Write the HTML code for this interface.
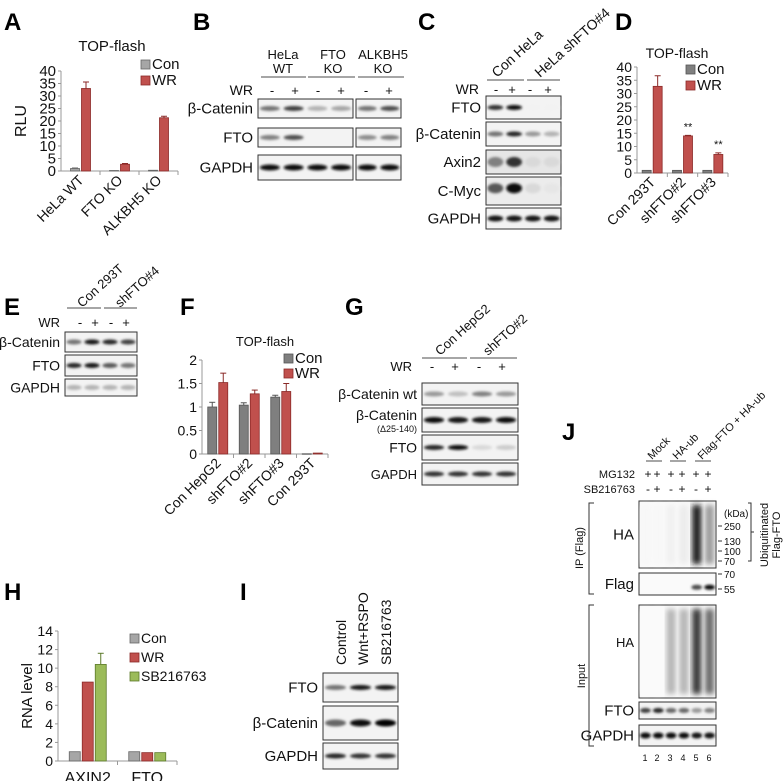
<!DOCTYPE html>
<html><head><meta charset="utf-8"><style>
body{margin:0;background:#fff}
svg{display:block;font-family:"Liberation Sans",Arial,sans-serif}
.L{font-weight:bold;font-size:24px}
</style></head><body>
<svg id="s" width="784" height="781" viewBox="0 0 784 781" xmlns="http://www.w3.org/2000/svg">
<defs><filter id="bl" x="-20%" y="-100%" width="140%" height="300%"><feGaussianBlur stdDeviation="1.2"/></filter>
<filter id="bl2" x="-20%" y="-20%" width="140%" height="140%"><feGaussianBlur stdDeviation="3"/></filter></defs>
<g class="L">
<text x="4" y="30">A</text><text x="193" y="30">B</text><text x="418" y="30">C</text><text x="615" y="30">D</text>
<text x="4" y="315">E</text><text x="180" y="315">F</text><text x="345" y="315">G</text>
<text x="4" y="600">H</text><text x="240" y="600">I</text><text x="562" y="440">J</text>
</g>
<g id="charts"></g>
<g id="blots"></g>
<g id="txt" font-size="13" fill="#111"></g>
</svg>
<script>
const S=document.getElementById('s'),NS='http://www.w3.org/2000/svg';
function el(t,a,p){const e=document.createElementNS(NS,t);for(const k in a)e.setAttribute(k,a[k]);(p||S).appendChild(e);return e;}
function tx(x,y,s,o){o=o||{};const e=el('text',Object.assign({x:x,y:y,'font-size':o.fs||13,fill:'#111','text-anchor':o.a||'start'},o.rot?{transform:`rotate(${o.rot} ${x} ${y})`}:{}),o.p||S);e.textContent=s;return e;}

// ---- chart data ----
const aCats=['HeLa WT','FTO KO','ALKBH5 KO'];
const aCon=[1,0.2,0.3];const aWR=[33,2.7,21.3];const aWRerr=[2.6,0.3,0.6];const aConErr=[0.2,0,0];
const aTicks=[0,5,10,15,20,25,30,35,40];
const dCats=['Con 293T','shFTO#2','shFTO#3'];
const dCon=[1,1,1];const dWR=[32.7,14,7];const dWRerr=[4,0.2,0.6];const dTicks=[0,5,10,15,20,25,30,35,40];const dStars=['','**','**'];
const fCats=['Con HepG2','shFTO#2','shFTO#3','Con 293T'];
const fCon=[1,1.04,1.21,0.005];const fWR=[1.52,1.28,1.33,0.02];const fConErr=[0.1,0.05,0.04,0];const fWRerr=[0.2,0.08,0.17,0];
const fTicks=[0,0.5,1,1.5,2];
const hCats=['AXIN2','FTO'];
const hCon=[1,1];const hWR=[8.5,0.9];const hSB=[10.4,0.9];const hSBerr=[1.2,0];const hTicks=[0,2,4,6,8,10,12,14];

function chart(name,o){
 const g=el('g',{});
 const y=v=>o.y0-(v-o.min)/(o.max-o.min)*(o.y0-o.y1);
 el('line',{x1:o.x0,y1:o.y1,x2:o.x0,y2:o.y0,stroke:'#999'},g);
 el('line',{x1:o.x0,y1:o.y0,x2:o.x2,y2:o.y0,stroke:'#999'},g);
 o.ticks.forEach(t=>{el('line',{x1:o.x0-3,x2:o.x0,y1:y(t),y2:y(t),stroke:'#999'},g);tx(o.x0-5,y(t)+5,String(t),{a:'end',fs:o.tfs||15,p:g});});
 const n=o.cats.length,gw=(o.x2-o.x0)/n;
 o.cats.forEach((c,i)=>{
  el('line',{x1:o.x0+gw*(i+1),x2:o.x0+gw*(i+1),y1:o.y0,y2:o.y0+4,stroke:'#999'},g);
  const ns=o.series.length,cx=o.x0+gw*(i+0.5),st=cx-ns*o.bw/2-(ns-1);
  o.series.forEach((s,j)=>{
   const v=s.v[i],bx=st+j*(o.bw+2),top=y(v);
   const b=el('rect',{x:bx,y:top,width:o.bw,height:Math.max(0.5,o.y0-top),fill:s.c,stroke:s.sc,'stroke-width':0.8},g);
   
   
   if(s.e&&s.e[i]){el('line',{x1:bx+o.bw/2,x2:bx+o.bw/2,y1:top,y2:y(v+s.e[i]),stroke:s.sc},g);el('line',{x1:bx+o.bw/2-3,x2:bx+o.bw/2+3,y1:y(v+s.e[i]),y2:y(v+s.e[i]),stroke:s.sc},g);}
   if(s.star&&s.star[i])tx(bx+o.bw/2,y(v+(s.e?s.e[i]:0))-5,s.star[i],{a:'middle',fs:11,p:g});
  });
  if(o.rotCat)tx(cx+4,o.y0+10,c,{a:'end',fs:o.cfs||14,rot:-45,p:g});else tx(cx,o.y0+22,c,{a:'middle',fs:16,p:g});
 });
 o.series.forEach((s,j)=>{el('rect',{x:o.lx,y:o.ly+j*o.ld-9,width:9,height:9,fill:s.c,stroke:s.sc,'stroke-width':0.8},g);tx(o.lx+11,o.ly+j*o.ld,s.n,{fs:o.lfs||15,p:g});});
 if(o.title)tx(o.tx,o.ty,o.title,{a:'middle',fs:o.tfsT||15,p:g});
 if(o.yl)tx(o.ylx,o.yly,o.yl,{a:'middle',fs:o.ylfs||16,rot:-90,p:g});
}
const G='#a6a6a6',GS='#666',R='#c0504d',RS='#8b2a28',D='#7f7f7f',GR='#9bbb59',GRS='#5c7a2a';
chart('chart-a',{x0:61,x2:178,y0:171,y1:71,min:0,max:40,ticks:aTicks,cats:aCats,bw:9,rotCat:true,cfs:14,
 series:[{n:'Con',v:aCon,c:G,sc:GS,e:aConErr},{n:'WR',v:aWR,c:R,sc:RS,e:aWRerr}],lx:141,ly:69,ld:16,title:'TOP-flash',tx:112,ty:51,yl:'RLU',ylx:26,yly:121});
chart('chart-d',{x0:637,x2:728,y0:173,y1:67,min:0,max:40,ticks:dTicks,tfs:14,cats:dCats,bw:9,rotCat:true,
 series:[{n:'Con',v:dCon,c:D,sc:'#555'},{n:'WR',v:dWR,c:R,sc:RS,e:dWRerr,star:dStars}],lx:686,ly:74,ld:16,title:'TOP-flash',tx:677,ty:58,tfsT:14});
chart('chart-f',{x0:202,x2:328,y0:454,y1:360,min:0,max:2,ticks:fTicks,tfs:14,cats:fCats,bw:9,rotCat:true,
 series:[{n:'Con',v:fCon,c:D,sc:'#555',e:fConErr},{n:'WR',v:fWR,c:R,sc:RS,e:fWRerr}],lx:284,ly:363,ld:15,title:'TOP-flash',tx:265,ty:346,tfsT:13});
chart('chart-h',{x0:58,x2:177,y0:761,y1:631,min:0,max:14,ticks:hTicks,tfs:14,cats:hCats,bw:11,
 series:[{n:'Con',v:hCon,c:G,sc:GS},{n:'WR',v:hWR,c:R,sc:RS},{n:'SB216763',v:hSB,c:GR,sc:GRS,e:hSBerr}],lx:130,ly:643,ld:19,lfs:14,yl:'RNA level',ylx:32,yly:696,ylfs:15});

// ---- blots ----
function blot(name,x,y,w,h,lanes,ints,opt){
 opt=opt||{};
 const g=el('g',{});
 el('rect',{x:x,y:y,width:w,height:h,fill:opt.bg||'#f3f3f3',stroke:'#333','stroke-width':1},g);
 const lw=w/lanes;
 ints.forEach((v,i)=>{if(v<=0)return;
  const c=Math.round(255*(1-v));
  if(opt.smear)el('rect',{x:x+lw*i+lw*0.15,y:y+4,width:lw*0.7,height:h-8,fill:`rgb(${c},${c},${c})`,filter:'url(#bl2)'},g);
  else el('ellipse',{cx:x+lw*(i+0.5),cy:y+h*(opt.by||0.5),rx:lw*0.42,ry:opt.bh||2.5,fill:`rgb(${c},${c},${c})`,filter:'url(#bl)'},g);});
 if(opt.label)tx(x-5,y+h/2+5,opt.label,{a:'end',fs:opt.lfs||15,p:S});
 return g;}
function hdr(x1,x2,y){el('line',{x1:x1,x2:x2,y1:y,y2:y,stroke:'#888','stroke-width':1.5});}
// B
tx(283,59,'HeLa',{a:'middle',fs:13});tx(283,73,'WT',{a:'middle',fs:13});tx(333,59,'FTO',{a:'middle',fs:13});tx(333,73,'KO',{a:'middle',fs:13});tx(383,59,'ALKBH5',{a:'middle',fs:13});tx(383,73,'KO',{a:'middle',fs:13});
hdr(261,306,77);hdr(308,355,77);hdr(358,404,77);
tx(253,95,'WR',{a:'end',fs:14});[272,295,318,341,366,389].forEach((x,i)=>tx(x,95,i%2?'+':'-',{a:'middle',fs:13}));
blot('b-catenin-blot-1',258,99,95,19,4,[.55,.75,.3,.35],{label:'β-Catenin'});blot('b-catenin-blot-2',356,99,45,19,2,[.55,.7]);
blot('b-fto-blot-1',258,128,95,19,4,[.5,.7,0,0],{label:'FTO'});blot('b-fto-blot-2',356,128,45,19,2,[.45,.5]);
blot('b-gapdh-blot-1',258,155,95,25,4,[.95,.95,.95,.95],{label:'GAPDH',bh:3});blot('b-gapdh-blot-2',356,155,45,25,2,[.95,.95],{bh:3});
// C
tx(497,78,'Con HeLa',{fs:14,rot:-42});tx(540,78,'HeLa shFTO#4',{fs:14,rot:-42});hdr(487,524,80);hdr(527,560,80);
tx(479,94,'WR',{a:'end',fs:14});[496,512,530,548].forEach((x,i)=>tx(x,94,i%2?'+':'-',{a:'middle',fs:13}));
blot('c-fto-blot',486,96,75,23,4,[.8,.95,0.05,0.05],{label:'FTO'});
blot('c-bcat-blot',486,122,75,24,4,[.55,.85,.4,.3],{label:'β-Catenin'});
blot('c-axin2-blot',486,150,75,24,4,[.5,.8,.15,.15],{label:'Axin2',bh:5,bg:'#e6e6e6'});
blot('c-cmyc-blot',486,177,75,28,4,[.65,.95,.15,.1],{label:'C-Myc',bh:5,by:0.4,bg:'#ececec'});
blot('c-gapdh-blot',486,208,75,21,4,[.9,.9,.9,.9],{label:'GAPDH',bh:3});
// E
tx(82,308,'Con 293T',{fs:13,rot:-42});tx(120,308,'shFTO#4',{fs:13,rot:-42});hdr(67,101,308);hdr(104,137,308);
tx(60,327,'WR',{a:'end',fs:13});[80,95,111,126].forEach((x,i)=>tx(x,327,i%2?'+':'-',{a:'middle',fs:13}));
blot('e-bcat-blot',65,332,72,20,4,[.55,.9,.85,.75],{label:'β-Catenin',lfs:14});
blot('e-fto-blot',65,355,72,21,4,[.85,.9,.65,.55],{label:'FTO',lfs:14});
blot('e-gapdh-blot',65,379,72,17,4,[.3,.3,.3,.3],{label:'GAPDH',lfs:14});
// G
tx(440,356,'Con HepG2',{fs:13,rot:-42});tx(488,356,'shFTO#2',{fs:13,rot:-42});hdr(422,467,358);hdr(470,517,358);
tx(412,371,'WR',{a:'end',fs:13});[432,455,479,502].forEach((x,i)=>tx(x,371,i%2?'+':'-',{a:'middle',fs:13}));
blot('g-bcat-wt-blot',422,383,96,22,4,[.4,.25,.5,.4],{label:'β-Catenin wt',lfs:14});
blot('g-bcat-d-blot',422,408,96,24,4,[.95,.9,.9,.95],{bh:3});tx(417,420,'β-Catenin',{a:'end',fs:14});tx(417,432,'(Δ25-140)',{a:'end',fs:9});
blot('g-fto-blot',422,435,96,25,4,[.85,.95,.15,.2],{label:'FTO',lfs:14});
blot('g-gapdh-blot',422,463,96,22,4,[.8,.8,.8,.8],{label:'GAPDH',lfs:13});
// I
tx(346,665,'Control',{fs:14,rot:-90});tx(368,665,'Wnt+RSPO',{fs:14,rot:-90});tx(391,665,'SB216763',{fs:14,rot:-90});
blot('i-fto-blot',323,673,75,29,3,[.55,.9,.9],{label:'FTO'});
blot('i-bcat-blot',323,706,75,34,3,[.6,.95,1],{label:'β-Catenin',bh:3.5});
blot('i-gapdh-blot',323,743,75,26,3,[.85,.8,.8],{label:'GAPDH'});
// J
tx(652,460,'Mock',{fs:11,rot:-45});tx(677,460,'HA-ub',{fs:11,rot:-45});tx(702,460,'Flag-FTO + HA-ub',{fs:11,rot:-45});
hdr(646,662,461);hdr(670,686,461);hdr(695,711,461);
tx(635,478,'MG132',{a:'end',fs:11});tx(635,493,'SB216763',{a:'end',fs:11});
[648,657,671,682,696,708].forEach((x,i)=>{tx(x,478,'+',{a:'middle',fs:12});tx(x,493,i%2?'+':'-',{a:'middle',fs:12});});
blot('j-ip-ha-blot',639,501,77,67,6,[.03,.03,.06,.08,.9,.4],{label:'HA',smear:true,bg:'#fafafa'});
blot('j-ip-flag-blot',639,573,77,22,6,[0,0,0,0,.7,.95],{label:'Flag',by:0.65,bg:'#fafafa'});
blot('j-input-ha-blot',639,605,77,93,6,[.02,.02,.3,.3,.8,.6],{smear:true,bg:'#fafafa'});tx(634,647,'HA',{a:'end',fs:13});
blot('j-fto-blot',639,702,77,17,6,[.75,.85,.6,.6,.4,.5],{label:'FTO',fs:13});
blot('j-gapdh-blot',639,725,77,21,6,[.95,.95,.95,.95,.9,.9],{label:'GAPDH',bh:3});
[645,657,670,683,696,709].forEach((x,i)=>tx(x,761,String(i+1),{a:'middle',fs:9}));
tx(724,517,'(kDa)',{fs:10});[['250',529],['130',544],['100',554],['70',564],['70',577],['55',592]].forEach(([t,y])=>{el('line',{x1:718,x2:722,y1:y-3,y2:y-3,stroke:'#333'});tx(724,y+1,t,{fs:10});});
el('path',{d:'M748 503 H751 V561 H748 M751 532 H754',stroke:'#333',fill:'none'});
tx(768,535,'Ubiquitinated',{a:'middle',fs:11,rot:-90});tx(780,535,'Flag-FTO',{a:'middle',fs:11,rot:-90});
el('path',{d:'M594 503 H589 V594 H594 M594 605 H589 V746 H594',stroke:'#333',fill:'none'});
tx(583,548,'IP (Flag)',{a:'middle',fs:11,rot:-90});tx(585,676,'Input',{a:'middle',fs:11,rot:-90});
</script>
</body></html>
